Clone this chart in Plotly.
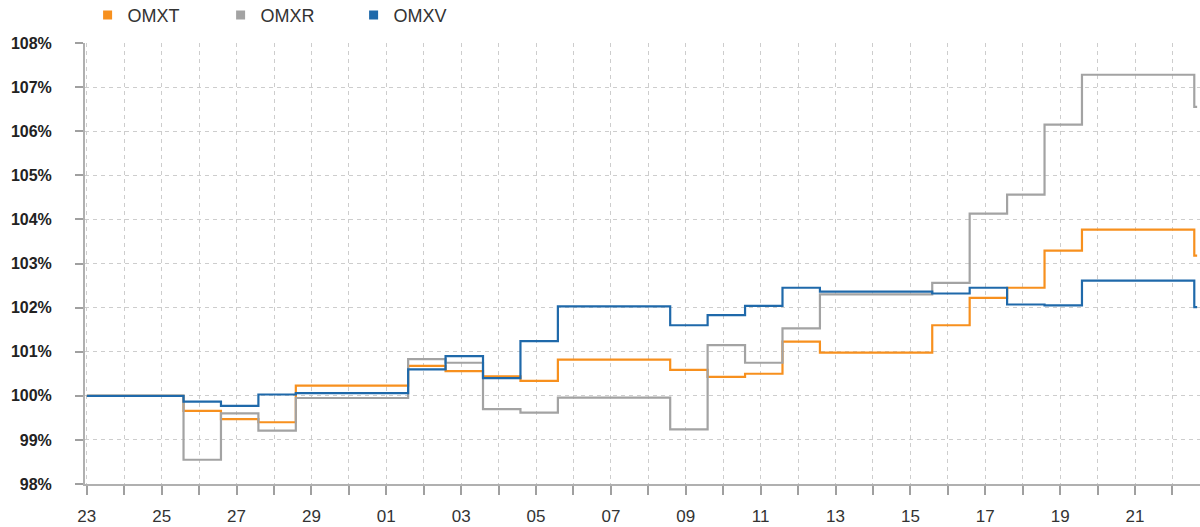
import plotly.graph_objects as go

dates = ["2018-09-23 00:00", "2018-09-24 14:00", "2018-09-25 14:00", "2018-09-26 14:00",
         "2018-09-27 14:00", "2018-09-28 14:00", "2018-10-01 14:00", "2018-10-02 14:00",
         "2018-10-03 14:00", "2018-10-04 14:00", "2018-10-05 14:00", "2018-10-08 14:00",
         "2018-10-09 14:00", "2018-10-10 14:00", "2018-10-11 14:00", "2018-10-12 14:00",
         "2018-10-15 14:00", "2018-10-16 14:00", "2018-10-17 14:00", "2018-10-18 14:00",
         "2018-10-19 14:00", "2018-10-22 14:00", "2018-10-22 15:50"]

omxt = [100.0, 100.0, 99.66, 99.47, 99.40, 100.23, 100.68, 100.56, 100.44, 100.34, 100.82,
        100.59, 100.43, 100.50, 101.23, 100.98, 101.60, 102.22, 102.45, 103.29, 103.77,
        103.18, 103.18]
omxr = [100.0, 100.0, 98.55, 99.60, 99.21, 99.95, 100.83, 100.75, 99.70, 99.62, 99.96,
        99.24, 101.15, 100.75, 101.53, 102.30, 102.56, 104.13, 104.56, 106.15, 107.28,
        106.55, 106.55]
omxv = [100.0, 100.0, 99.87, 99.77, 100.03, 100.06, 100.60, 100.90, 100.40, 101.24, 102.03,
        101.60, 101.83, 102.04, 102.45, 102.36, 102.32, 102.45, 102.07, 102.05, 102.61,
        102.01, 102.01]

series_names = ["OMXT", "OMXR", "OMXV"]
series_values = [omxt, omxr, omxv]
colors = ["#F7901E", "#A3A3A3", "#1F69AA"]

fig = go.Figure()
for name, vals, col in zip(series_names, series_values, colors):
    fig.add_trace(go.Scatter(x=dates, y=vals, mode="lines", name=name,
                             line=dict(color=col, width=2.2, shape="hv"),
                             showlegend=False, hoverinfo="skip"))
for name, col in zip(series_names, colors):
    fig.add_trace(go.Scatter(x=[None], y=[None], mode="markers", name=name,
                             marker=dict(symbol="square", size=9, color=col)))

grid_col = "#CDCDCD"
fig.update_layout(
    width=1200, height=527,
    margin=dict(l=85, r=0, t=43, b=43, autoexpand=False),
    paper_bgcolor="white", plot_bgcolor="white",
    font=dict(family="Liberation Sans, Arial, sans-serif", color="#333333"),
    legend=dict(orientation="h", xref="container", x=0.073, xanchor="left",
                yref="container", y=0.971, yanchor="middle",
                font=dict(size=18, color="#333333"),
                entrywidth=88, entrywidthmode="pixels", itemwidth=30,
                bgcolor="rgba(0,0,0,0)"),
    xaxis=dict(
        type="date",
        range=["2018-09-22 22:50", "2018-10-22 17:40"],
        tick0="2018-09-23", dtick=2 * 86400000, tickformat="%d",
        showgrid=True, gridcolor=grid_col, griddash="4px,4px", gridwidth=1,
        ticks="outside", ticklen=9, tickcolor="#A0A0A0", tickwidth=1.5,
        showline=True, linecolor="#B0B0B0", linewidth=2,
        tickfont=dict(size=17, color="#333333"),
        ticklabelstandoff=7,
        minor=dict(dtick=86400000, tick0="2018-09-23", showgrid=True, gridcolor=grid_col,
                   griddash="4px,4px", gridwidth=1, ticks="outside", ticklen=9,
                   tickcolor="#A0A0A0", tickwidth=1.5),
        zeroline=False,
    ),
    yaxis=dict(
        range=[98, 108], dtick=1, ticksuffix="%",
        showgrid=True, gridcolor=grid_col, griddash="4px,4px", gridwidth=1,
        ticks="outside", ticklen=8, tickcolor="#A0A0A0", tickwidth=1.5,
        showline=True, linecolor="#B0B0B0", linewidth=2,
        tickfont=dict(size=16, color="#222222", family="Liberation Sans, Arial, sans-serif", weight="bold"),
        ticklabelstandoff=20,
        zeroline=False,
    ),
)

fig.write_html("out.html", config={"displayModeBar": False},
               post_script="document.body.style.margin='0px';document.body.style.overflow='hidden';")
